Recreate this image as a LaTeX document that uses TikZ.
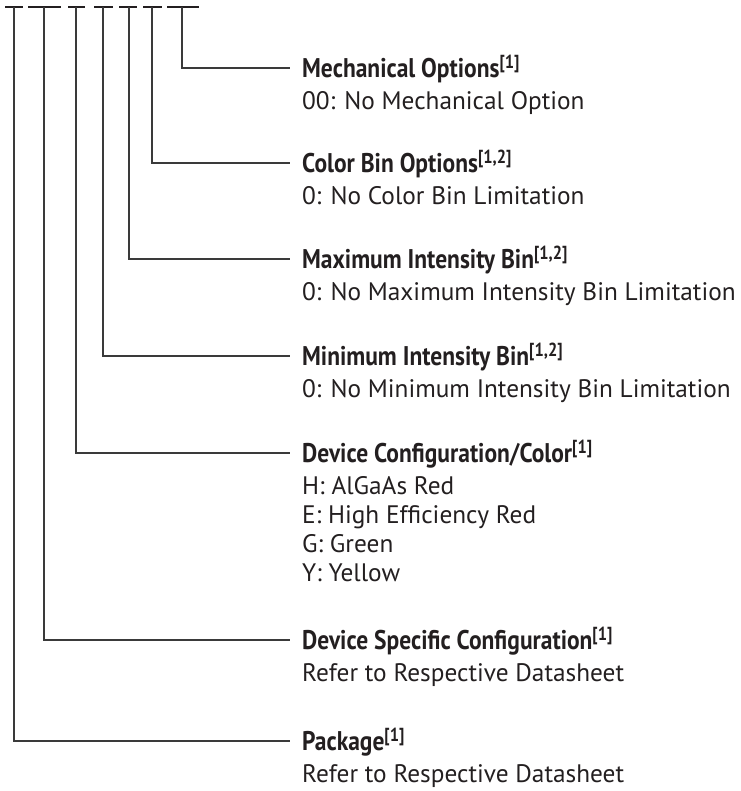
\documentclass[tikz,border=0pt]{standalone}
\usepackage{fontspec}
\setmainfont{PT Sans}
\newfontfamily\headfont[FakeStretch=0.87]{PT Sans}
\definecolor{ink}{HTML}{231F20}
\definecolor{wire}{HTML}{3A3A3A}

\tikzset{
  dashbar/.style={ink, line width=2.8pt},
  leader/.style={wire, line width=1.2pt},
  title/.style={anchor=west, inner xsep=12pt, inner ysep=0pt, text height=19pt,
                text depth=0pt, text=ink, font=\headfont\bfseries\fontsize{27}{29}\selectfont},
  body/.style={anchor=north west, inner xsep=12pt, inner ysep=0pt, align=left,
               text=ink, font=\fontsize{25.3}{29}\selectfont},
}

\begin{document}
\begin{tikzpicture}[x=1pt, y=-1pt]

\useasboundingbox (0,0) rectangle (740,791);

\def\dy{7}     %% height of the dash row
\def\tx{290}   %% where the leaders end
\def\gap{-11pt}

%% ── Dash row ────────────────────────────────────────────────────────────
\foreach \a/\b/\c/\n in {5/23/14/d1, 28/61/44/d2, 68/85/76/d3, 94/113/103/d4,
                         119/137/129/d5, 143/162/152/d6, 167/199/182/d7}{
  \draw[dashbar] (\a,\dy) -- (\b,\dy);
  \coordinate (\n) at (\c,\dy);
}

%% ── Fields ──────────────────────────────────────────────────────────────
\node[title] (mech) at (\tx,68) {Mechanical Options\textsuperscript{[1]}};
\node[body] (mechtxt) at ([yshift=\gap]mech.south west)
  {\strut 00: No Mechanical Option};

\node[title] (cbin) at (\tx,163) {Color Bin Options\textsuperscript{[1,2]}};
\node[body] (cbintxt) at ([yshift=\gap]cbin.south west)
  {\strut 0: No Color Bin Limitation};

\node[title] (maxi) at (\tx,259) {Maximum Intensity Bin\textsuperscript{[1,2]}};
\node[body] (maxitxt) at ([yshift=\gap]maxi.south west)
  {\strut 0: No Maximum Intensity Bin Limitation};

\node[title] (mini) at (\tx,356) {Minimum Intensity Bin\textsuperscript{[1,2]}};
\node[body] (minitxt) at ([yshift=\gap]mini.south west)
  {\strut 0: No Minimum Intensity Bin Limitation};

\node[title] (conf) at (\tx,453) {Device Configuration/Color\textsuperscript{[1]}};
\node[body] (conftxt) at ([yshift=\gap]conf.south west)
  {\strut H: AlGaAs Red\\E: High Efficiency Red\\G: Green\\Y: Yellow};

\node[title] (spec) at (\tx,640) {Device Specific Configuration\textsuperscript{[1]}};
\node[body] (spectxt) at ([yshift=\gap]spec.south west)
  {\strut Refer to Respective Datasheet};

\node[title] (pkg) at (\tx,741) {Package\textsuperscript{[1]}};
\node[body] (pkgtxt) at ([yshift=\gap]pkg.south west)
  {\strut Refer to Respective Datasheet};

%% ── Leaders ─────────────────────────────────────────────────────────────
\draw[leader] (d7) |- (mech.west);
\draw[leader] (d6) |- (cbin.west);
\draw[leader] (d5) |- (maxi.west);
\draw[leader] (d4) |- (mini.west);
\draw[leader] (d3) |- (conf.west);
\draw[leader] (d2) |- (spec.west);
\draw[leader] (d1) |- (pkg.west);

\end{tikzpicture}
\end{document}
